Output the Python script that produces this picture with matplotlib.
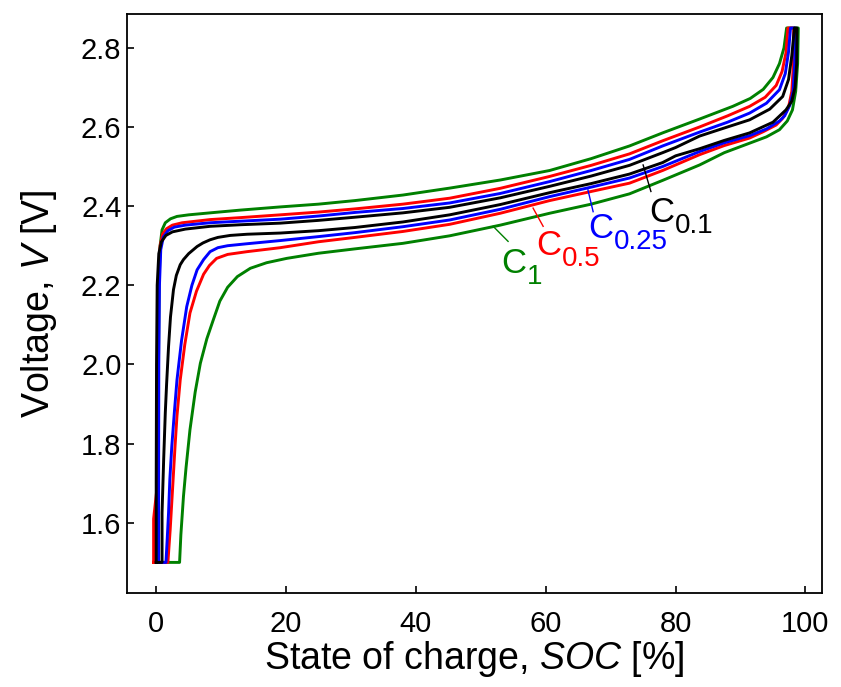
import numpy as np
import matplotlib
matplotlib.use("Agg")
import matplotlib.pyplot as plt

plt.rcParams["font.family"] = ["Liberation Sans", "DejaVu Sans"]
plt.rcParams["mathtext.fontset"] = "custom"
plt.rcParams["mathtext.rm"] = "Liberation Sans"
plt.rcParams["mathtext.it"] = "Liberation Sans:italic"
plt.rcParams["mathtext.default"] = "regular"

# ----------------------------------------------------------------------------
# Charge (upper) and discharge (lower) branches
# ----------------------------------------------------------------------------
c1_up_soc = [0.3, 0.3, 0.35, 0.45, 0.6, 0.9, 1.4, 2.2, 3.2, 5.0, 8.3, 13, 19.1, 25, 30.6, 38, 45.2, 53, 60.6,
             67, 72.9, 78, 83.7, 88.8, 91.5, 93.5, 95.0, 96.0, 96.7, 97.1, 98.9]
c1_up_v = [1.5, 1.7, 2.0, 2.2, 2.30, 2.34, 2.358, 2.368, 2.374, 2.378, 2.383, 2.39, 2.398, 2.405, 2.414, 2.428,
           2.4455, 2.466, 2.49, 2.52, 2.552, 2.585, 2.62, 2.652, 2.672, 2.695, 2.725, 2.76, 2.80, 2.85, 2.85]
c1_dn_soc = [98.9, 98.8, 98.5, 98.0, 97.2, 96.0, 94, 91.4, 87.5, 83.7, 78, 72.9, 67, 60.6, 53, 45.2, 38, 30.6,
             25, 20.1, 17, 14.5, 12.5, 11, 9.8, 8.8, 7.8, 6.8, 6.0, 5.2, 4.6, 4.2, 3.8, 3.6, 0.3]
c1_dn_v = [2.85, 2.76, 2.69, 2.643, 2.615, 2.593, 2.575, 2.559, 2.535, 2.504, 2.465, 2.431, 2.405, 2.382, 2.352,
           2.325, 2.306, 2.292, 2.281, 2.268, 2.257, 2.243, 2.222, 2.195, 2.16, 2.113, 2.065, 2.003, 1.93, 1.835,
           1.74, 1.667, 1.57, 1.5, 1.5]

c05_up_soc = [-0.4, -0.4, 0.2, 0.25, 0.35, 0.6, 1.0, 1.6, 2.5, 4, 8.3, 13, 19.1, 25, 30.6, 38, 45.2, 53, 60.6,
              67, 72.9, 78, 83.7, 88, 91.4, 93.8, 95.5, 96.4, 97.0, 97.3, 98.2]
c05_up_v = [1.5, 1.61, 1.7, 2.0, 2.2, 2.30, 2.33, 2.343, 2.352, 2.358, 2.366, 2.371, 2.378, 2.385, 2.393, 2.405,
            2.42, 2.445, 2.475, 2.503, 2.532, 2.565, 2.6, 2.628, 2.652, 2.675, 2.705, 2.74, 2.787, 2.85, 2.85]
c05_dn_soc = [98.2, 98.15, 97.9, 97.4, 96.5, 95.5, 93.5, 91.4, 87.5, 83.7, 78, 72.9, 67, 60.6, 53, 45.2, 38,
              30.6, 25, 19.1, 14, 11, 9.3, 8.2, 7.3, 6.2, 5.2, 4.4, 3.7, 3.2, 2.9, 2.5, 2.15, 1.8, -0.4]
c05_dn_v = [2.85, 2.76, 2.69, 2.65, 2.622, 2.605, 2.588, 2.572, 2.553, 2.53, 2.49, 2.458, 2.437, 2.414, 2.382,
            2.354, 2.336, 2.321, 2.31, 2.295, 2.285, 2.278, 2.268, 2.25, 2.228, 2.185, 2.13, 2.05, 1.961, 1.87,
            1.793, 1.68, 1.582, 1.5, 1.5]

c025_up_soc = [0.36, 0.36, 0.4, 0.5, 0.7, 1.1, 1.8, 2.8, 4.5, 8.3, 13, 19.1, 25, 30.6, 38, 45.2, 53, 60.6, 67,
               72.9, 78, 83.7, 88, 91.4, 94, 96.0, 96.9, 97.4, 97.7, 98.4]
c025_up_v = [1.5, 1.61, 2.0, 2.2, 2.29, 2.322, 2.338, 2.347, 2.352, 2.358, 2.362, 2.367, 2.375, 2.384, 2.394,
             2.408, 2.432, 2.462, 2.49, 2.518, 2.552, 2.587, 2.612, 2.635, 2.66, 2.694, 2.735, 2.79, 2.85, 2.85]
c025_dn_soc = [98.4, 98.35, 98.1, 97.6, 96.8, 96.0, 94, 91.4, 87.5, 83.7, 78, 72.9, 67, 60.6, 53, 45.2, 38,
               30.6, 25, 19.1, 14, 11, 9.5, 8.3, 7.3, 6.3, 5.5, 4.7, 3.9, 3.2, 2.8, 2.4, 2.1, 1.9, 1.7, 1.5, 0.36]
c025_dn_v = [2.85, 2.76, 2.69, 2.655, 2.628, 2.615, 2.595, 2.578, 2.56, 2.538, 2.5, 2.471, 2.448, 2.424, 2.392,
             2.365, 2.348, 2.333, 2.323, 2.313, 2.305, 2.3, 2.295, 2.285, 2.265, 2.239, 2.2, 2.146, 2.06, 1.961,
             1.88, 1.793, 1.71, 1.625, 1.56, 1.5, 1.5]

c01_up_soc = [0.0, 0.0, 0.05, 0.15, 0.4, 0.8, 1.5, 2.5, 4.5, 8.3, 13, 19.1, 25, 30.6, 38, 45.2, 53, 60.6, 67,
              72.9, 78, 80, 83.7, 88, 91.4, 94.5, 96.5, 97.4, 97.9, 98.3, 98.7]
c01_up_v = [1.5, 1.7, 2.0, 2.2, 2.28, 2.31, 2.326, 2.335, 2.342, 2.349, 2.353, 2.357, 2.364, 2.372, 2.383, 2.397,
            2.421, 2.45, 2.476, 2.503, 2.535, 2.548, 2.577, 2.6, 2.618, 2.645, 2.677, 2.72, 2.78, 2.85, 2.85]
c01_dn_soc = [98.7, 98.65, 98.4, 97.9, 97.0, 95, 91.4, 87.5, 83.7, 80, 78, 72.9, 67, 60.6, 53, 45.2, 38, 30.6,
              25, 19.1, 14, 11.4, 9.5, 8.3, 7.2, 6.3, 5.0, 4.2, 3.7, 3.1, 2.66, 2.2, 1.9, 1.6, 1.4, 1.15, 0.9,
              0.9, 0.0]
c01_dn_v = [2.85, 2.76, 2.70, 2.665, 2.643, 2.612, 2.585, 2.566, 2.545, 2.527, 2.51, 2.481, 2.457, 2.434, 2.404,
            2.378, 2.36, 2.346, 2.338, 2.332, 2.329, 2.326, 2.321, 2.315, 2.307, 2.298, 2.28, 2.265, 2.252,
            2.225, 2.189, 2.12, 2.045, 1.95, 1.878, 1.76, 1.625, 1.5, 1.5]

colors = ["#008000", "#ff0000", "#0000ff", "#000000"]
branches = [
    (c1_up_soc, c1_up_v, c1_dn_soc, c1_dn_v),
    (c05_up_soc, c05_up_v, c05_dn_soc, c05_dn_v),
    (c025_up_soc, c025_up_v, c025_dn_soc, c025_dn_v),
    (c01_up_soc, c01_up_v, c01_dn_soc, c01_dn_v),
]

# rate labels: subscript text, anchor of the "C" (soc, V), leader line ends
label_sub = ["1", "0.5", "0.25", "0.1"]
label_pos = [(53.1, 2.232), (58.5, 2.277), (66.5, 2.320), (76.0, 2.360)]
leader_from = [(51.9, 2.349), (58.05, 2.395), (66.5, 2.441), (75.0, 2.504)]
leader_to = [(54.2, 2.311), (59.6, 2.349), (67.3, 2.386), (76.2, 2.437)]

fig = plt.figure(figsize=(8.41, 6.87), dpi=100)
ax = fig.add_axes([0.151, 0.137, 0.826, 0.843])

for (us, uv, ds, dv), col in zip(branches, colors):
    ax.plot(us + ds, uv + dv, color=col, lw=2.1)

for sub, pos, a, b, col in zip(label_sub, label_pos, leader_from, leader_to, colors):
    ax.plot([a[0], b[0]], [a[1], b[1]], color=col, lw=1)
    ax.text(pos[0], pos[1], "C", color=col, fontsize=25, ha="left", va="baseline")
    ax.annotate(sub, xy=pos, xytext=(18.5, -8), textcoords="offset points",
                color=col, fontsize=20, ha="left", va="baseline")

ax.set_xlim(-4.5, 102.5)
ax.set_ylim(1.423, 2.886)
ax.set_xticks([0, 20, 40, 60, 80, 100])
ax.set_yticks([1.6, 1.8, 2.0, 2.2, 2.4, 2.6, 2.8])
ax.set_yticklabels(["1.6", "1.8", "2.0", "2.2", "2.4", "2.6", "2.8"])
ax.tick_params(direction="in", length=5, width=1.2, labelsize=21)
ax.tick_params(axis="x", pad=12)
ax.tick_params(axis="y", pad=4)
for s in ax.spines.values():
    s.set_linewidth(1.3)

ax.set_xlabel(r"State of charge, $\mathit{SOC}$ [%]", fontsize=27, labelpad=1)
ax.set_ylabel(r"Voltage, $\mathit{V}$ [V]", fontsize=27, labelpad=16)

fig.savefig("out.png", dpi=100)
